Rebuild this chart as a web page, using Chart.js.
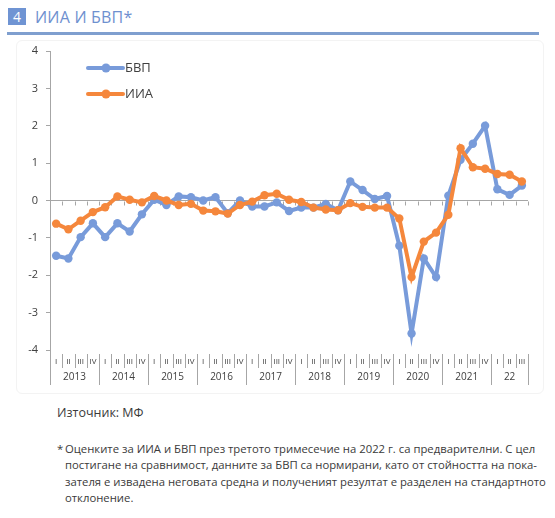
<!DOCTYPE html>
<html><head><meta charset="utf-8">
<script src="https://cdn.jsdelivr.net/npm/chart.js@4.4.1/dist/chart.umd.min.js"></script>
<style>
html,body{margin:0;padding:0;background:#fff}
body{width:555px;height:518px;overflow:hidden;position:relative;font-family:"Open Sans",sans-serif;color:#333}
#hdr{position:absolute;left:8px;top:8px;height:17px;display:flex;align-items:center}
.num{width:18px;height:17px;background:#6f94d3;color:#fff;font-size:14px;line-height:17px;text-align:center}
.ttl{margin-left:9px;color:#6e90cf;font-size:16px;font-weight:400;letter-spacing:0.2px}
#rule{position:absolute;left:7px;top:32px;width:532px;height:3px;background:#7f9fcf}
#frame{position:absolute;left:16px;top:40px;width:528px;height:354px;border:1px solid #f3f3f3;border-radius:6px;box-sizing:border-box}
#wrap{position:absolute;left:0;top:0;width:555px;height:400px}
#src{position:absolute;left:57px;top:404px;font-size:12.5px;color:#3a3a3a}
#star{position:absolute;left:57px;top:441px;font-size:11.3px;color:#3a3a3a}
#note{position:absolute;left:65px;top:441px;font-size:11.3px;color:#3a3a3a;line-height:16.4px;white-space:nowrap}
</style></head>
<body>
<div id="hdr"><div class="num">4</div><div class="ttl">ИИА И БВП*</div></div>
<div id="rule"></div>
<div id="frame"></div>
<div id="wrap"><canvas id="c"></canvas></div>
<div id="src">Източник: МФ</div>
<div id="star">*</div>
<div id="note">Оценките за ИИА и БВП през третото тримесечие на 2022 г. са предварителни. С цел<br>постигане на сравнимост, данните за БВП са нормирани, като от стойността на пока-<br>зателя е извадена неговата средна и полученият резултат е разделен на стандартното<br>отклонение.</div>
<script>
const categories = [
 'I','II','III','IV','I','II','III','IV','I','II','III','IV','I','II','III','IV',
 'I','II','III','IV','I','II','III','IV','I','II','III','IV','I','II','III','IV',
 'I','II','III','IV','I','II','III'
];
const yearLabels = ['2013','2014','2015','2016','2017','2018','2019','2020','2021','22'];
const gdp = [-1.48,-1.55,-0.98,-0.61,-0.98,-0.61,-0.83,-0.37,0.02,-0.12,0.11,0.09,0.0,0.09,-0.34,0.0,
 -0.16,-0.16,-0.05,-0.28,-0.19,-0.19,-0.09,-0.26,0.51,0.28,0.04,0.12,-1.21,-3.56,-1.55,-2.05,
 0.13,1.09,1.52,2.0,0.30,0.15,0.40];
const iia = [-0.62,-0.77,-0.54,-0.31,-0.18,0.11,0.02,-0.05,0.12,0.0,-0.12,-0.09,-0.27,-0.29,-0.35,-0.12,
 -0.03,0.14,0.18,0.02,-0.04,-0.19,-0.24,-0.26,-0.07,-0.17,-0.19,-0.19,-0.48,-2.05,-1.10,-0.86,
 -0.38,1.40,0.89,0.85,0.71,0.69,0.51];
const seriesNames = ['БВП','ИИА'];
const yMin = -4, yMax = 4, yStep = 1;

const BLUE = '#789bda', ORANGE = '#f5873c', AXIS = '#a6a6a6', TXT = '#404040';
const FONT = '"Open Sans", sans-serif';

const axisPlugin = {
  id: 'multiAxis',
  beforeDatasetsDraw(chart) {
    const {ctx, scales: {x, y}} = chart;
    const half = (x.getPixelForValue(1) - x.getPixelForValue(0)) / 2;
    const y0 = Math.round(y.getPixelForValue(0)) + 0.5;
    ctx.save();
    ctx.strokeStyle = AXIS; ctx.lineWidth = 1;
    ctx.beginPath();
    for (let i = 0; i <= categories.length; i++) {
      const px = Math.round(x.getPixelForValue(i) - half) + 0.5;
      ctx.moveTo(px, y0); ctx.lineTo(px, y0 + 4);
    }
    ctx.stroke();
    ctx.restore();
  },
  afterDraw(chart) {
    const {ctx, scales: {x, y}} = chart;
    const n = categories.length;
    const half = (x.getPixelForValue(1) - x.getPixelForValue(0)) / 2;
    const top = y.bottom + 4, qBot = top + 14, yBot = top + 31;
    ctx.save();
    ctx.strokeStyle = AXIS; ctx.lineWidth = 1;
    ctx.beginPath();
    for (let i = 0; i <= n; i++) {
      const px = Math.round(x.getPixelForValue(i) - half) + 0.5;
      const yearEdge = (i % 4 === 0) || i === n;
      ctx.moveTo(px, i === 0 ? y.bottom : top);
      ctx.lineTo(px, yearEdge ? yBot : qBot);
    }
    ctx.stroke();
    ctx.fillStyle = TXT;
    ctx.textAlign = 'center'; ctx.textBaseline = 'middle';
    ctx.font = '8px ' + FONT;
    categories.forEach((q, i) => ctx.fillText(q, x.getPixelForValue(i), top + 7.5));
    ctx.font = '10px ' + FONT;
    yearLabels.forEach((yl, k) => {
      const a = 4 * k, b = Math.min(4 * k + 3, n - 1);
      ctx.fillText(yl, (x.getPixelForValue(a) + x.getPixelForValue(b)) / 2, top + 23.5);
    });
    ctx.restore();
  },
  afterDatasetsDraw(chart) {
    const {ctx} = chart;
    const items = [{name: seriesNames[0], color: BLUE, y: 68}, {name: seriesNames[1], color: ORANGE, y: 94}];
    ctx.save();
    items.forEach(it => {
      ctx.strokeStyle = it.color; ctx.lineWidth = 4; ctx.lineCap = 'round';
      ctx.beginPath(); ctx.moveTo(88, it.y); ctx.lineTo(123, it.y); ctx.stroke();
      ctx.fillStyle = it.color;
      ctx.beginPath(); ctx.arc(106, it.y, 4.5, 0, Math.PI * 2); ctx.fill();
      ctx.fillStyle = TXT; ctx.font = '13px ' + FONT;
      ctx.textAlign = 'left'; ctx.textBaseline = 'middle';
      ctx.fillText(it.name, 125, it.y + 0.5);
    });
    ctx.restore();
  }
};

new Chart(document.getElementById('c'), {
  type: 'line',
  data: {
    labels: categories,
    datasets: [
      {label: seriesNames[1], data: iia, borderColor: ORANGE, backgroundColor: ORANGE,
       borderWidth: 4, pointRadius: 4.2, pointBorderWidth: 0, pointBackgroundColor: ORANGE, tension: 0, order: 0},
      {label: seriesNames[0], data: gdp, borderColor: BLUE, backgroundColor: BLUE,
       borderWidth: 4, pointRadius: 4.2, pointBorderWidth: 0, pointBackgroundColor: BLUE, tension: 0, order: 1}
    ]
  },
  options: {
    responsive: true, maintainAspectRatio: false, animation: false,
    layout: {padding: {left: 0, right: 27, top: 51, bottom: 50}},
    plugins: {legend: {display: false}, tooltip: {enabled: false}},
    scales: {
      x: {type: 'category', offset: true, display: false},
      y: {
        min: yMin, max: yMax,
        afterFit(s) { s.width = 50; },
        ticks: {stepSize: yStep, color: TXT, font: {family: FONT, size: 11}, padding: 8},
        grid: {
          drawOnChartArea: true, drawTicks: true, tickLength: 4,
          color: c => (c.tick && c.tick.value === 0) ? AXIS : 'rgba(0,0,0,0)',
          tickColor: AXIS
        },
        border: {display: true, color: AXIS}
      }
    }
  },
  plugins: [axisPlugin]
});
</script>
</body></html>
